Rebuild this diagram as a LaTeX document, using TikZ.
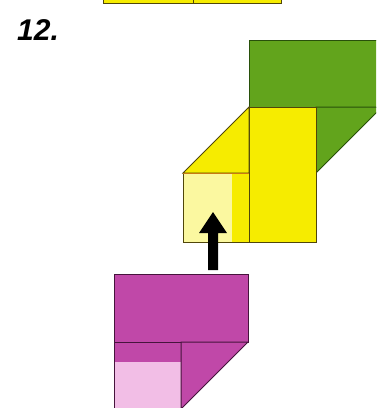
\documentclass[tikz,border=0pt]{standalone}
\usepackage{fontspec}
\setmainfont{Liberation Sans}
\begin{document}
\begin{tikzpicture}[x=1pt,y=-1pt,
  edge/.style={line width=1pt,line join=miter},
  greenpc/.style={edge,fill=leaf,draw=leafline},
  yellowpc/.style={edge,fill=lemon,draw=lemonline},
  pinkpc/.style={edge,fill=plum,draw=plumline}]
\definecolor{leaf}{RGB}{98,164,28}
\definecolor{leafline}{RGB}{40,80,10}
\definecolor{lemon}{RGB}{246,236,0}
\definecolor{lemonpale}{RGB}{251,248,160}
\definecolor{lemonline}{RGB}{80,70,10}
\definecolor{edgeorange}{RGB}{200,120,20}
\definecolor{plum}{RGB}{192,72,168}
\definecolor{plumpale}{RGB}{242,190,230}
\definecolor{plumline}{RGB}{70,20,60}
\useasboundingbox (0,0) rectangle (376,408);
\clip (0,0) rectangle (376,408);

% strip left over from the previous step
\draw[yellowpc] (103,-6) rectangle (281,3);
\draw[edge,draw=lemonline] (193,-6) -- (193,3);

% step number
\node[anchor=north west,inner sep=0pt,font=\bfseries\itshape\fontsize{30}{30}\selectfont] (num) at (17,19) {12.};

% green piece: top band and folded corner
\draw[greenpc] (249,40) rectangle (380,107);
\draw[greenpc] (316,107) -- (382,107) -- (316,173) -- cycle;

% yellow piece
\draw[yellowpc] (249,107) rectangle (316,242);
\draw[yellowpc] (249,107) -- (249,173) -- (183,173) -- cycle;
\fill[lemonpale] (183,173) rectangle (232,242);
\fill[lemon] (232,173) rectangle (249,242);
\draw[edge,draw=lemonline] (183,173) rectangle (249,242);
\draw[edge,draw=edgeorange] (183,173) -- (249,173);

% arrow pushing the pink piece up
\fill[black] (208,270) -- (208,233) -- (199,233) -- (213,212) -- (227,233) -- (218,233) -- (218,270) -- cycle;

% pink piece
\draw[pinkpc] (114,274) rectangle (248,342);
\fill[plum] (114,342) rectangle (181,362);
\fill[plumpale] (114,362) rectangle (181,412);
\draw[edge,draw=plumline] (114,412) -- (114,342) -- (181,342) -- (181,412);
\draw[pinkpc] (181,342) -- (248,342) -- (181,409) -- cycle;
\end{tikzpicture}
\end{document}
